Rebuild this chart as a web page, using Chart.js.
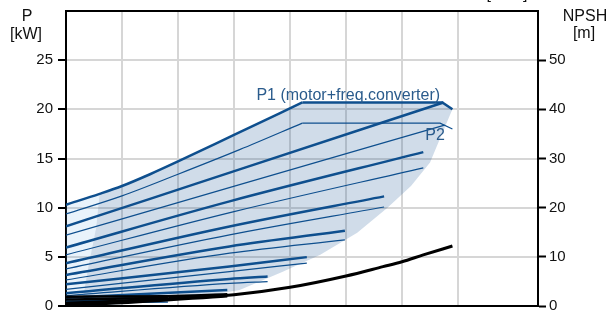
<!DOCTYPE html>
<html>
<head>
<meta charset="utf-8">
<script src="https://cdn.jsdelivr.net/npm/chart.js@4.4.1/dist/chart.umd.min.js"></script>
<style>
  html, body { margin: 0; padding: 0; background: #fff; }
  canvas { display: block; }
</style>
</head>
<body>
<canvas id="pumpChart" width="614" height="311"></canvas>
<script>
// Q axis has no labels on this crop, grid step 5
const qMax = 42.14;
const pTicks = [0, 5, 10, 15, 20, 25];
const npshTicks = [0, 10, 20, 30, 40, 50];

// top P1 curve: rising part, then power-limited part
const p1TopRise = [[0, 10.3], [3.0, 11.4], [5, 12.2], [7.5, 13.4], [10, 14.7], [15, 17.4], [21.1, 20.7]];
const p1TopLimit = [[21.1, 20.7], [33.6, 20.7], [34.5, 20.0]];
const p2TopRise = [[0, 9.36], [5, 11.2], [10, 13.4], [15.5, 15.9], [21.1, 18.6]];
const p2TopLimit = [[21.1, 18.6], [33.4, 18.6], [34.5, 18.0]];

// P1 (motor+freq.converter) for the lower speeds, [Q, P kW]
const p1Curves = [
  [[0, 8.1], [7.5, 10.9], [15.5, 13.9], [33.7, 20.7]],
  [[0, 5.95], [14.6, 10.64], [31.9, 15.65]],
  [[0, 4.35], [14.6, 8.09], [28.4, 11.15]],
  [[0, 3.16], [14.6, 6.05], [24.9, 7.65]],
  [[0, 2.2], [14.6, 4.01], [21.5, 4.97]],
  [[0, 1.3], [14.6, 2.75], [18.0, 2.99]],
  [[0, 0.85], [14.4, 1.63]],
  [[0, 0.45], [9.1, 0.61]]
];

// P2 for the lower speeds
const p2Curves = [
  [[0, 7.2], [15.5, 12.35], [33.8, 18.4]],
  [[0, 5.2], [15.0, 9.6], [31.9, 14.05]],
  [[0, 3.78], [14.6, 7.24], [28.4, 10.07]],
  [[0, 2.65], [14.6, 5.37], [24.9, 6.73]],
  [[0, 1.7], [14.6, 3.5], [21.5, 4.36]],
  [[0, 1.05], [14.6, 2.3], [18.0, 2.48]],
  [[0, 0.65], [14.4, 1.22]],
  [[0, 0.3], [9.1, 0.4]]
];

// NPSH [Q, m]
const npshMain = [[0, 0.6], [5, 1.0], [9.1, 1.5], [15, 2.3], [20, 3.8], [25, 6.1], [28.3, 8.0], [30, 9.0], [31.9, 10.4], [34.5, 12.2]];
const npshLow = [
  [[0, 1.9], [9.1, 2.0], [14.4, 2.4]],
  [[0, 1.3], [9.1, 1.7]],
  [[0, 0.2], [5, 0.6], [14.4, 2.0]]
];

// operating area outlines [Q, P kW]
const areaMain = [[3.0, 11.4], [5, 12.2], [7.5, 13.4], [10, 14.7], [15, 17.4], [21.1, 20.7], [33.6, 20.7], [34.5, 20.0],
  [33.6, 17.6], [32.5, 14.6], [30.8, 12.2], [28.7, 10.0], [26.0, 7.45], [22.7, 5.2], [19.3, 3.47], [15.5, 1.63],
  [10.2, 0.6], [4, 0.1], [1.4, 0.05], [2.0, 4.0], [2.7, 8.0], [3.0, 11.4]];
const areaLow = [[0, 10.3], [3.0, 11.4], [2.7, 8.0], [2.0, 4.0], [1.4, 0.05], [0, 0.05], [0, 10.3]];

const blue = '#0e4f8e';
const toXY = (pts) => pts.map((p) => ({ x: p[0], y: p[1] }));

const datasets = [];
datasets.push({ data: toXY(npshMain), yAxisID: 'y1', borderColor: '#000', borderWidth: 3, cubicInterpolationMode: 'monotone', order: 1 });
npshLow.forEach((c) => datasets.push({ data: toXY(c), yAxisID: 'y1', borderColor: '#000', borderWidth: 2.5, cubicInterpolationMode: 'monotone', order: 1 }));

[p1TopRise, p1TopLimit].forEach((c, i) => datasets.push({
  data: toXY(c), yAxisID: 'y', borderColor: blue, borderWidth: 2.5,
  cubicInterpolationMode: i === 0 ? 'monotone' : 'default', tension: 0, order: 2
}));
[p2TopRise, p2TopLimit].forEach((c, i) => datasets.push({
  data: toXY(c), yAxisID: 'y', borderColor: blue, borderWidth: 1.2,
  cubicInterpolationMode: i === 0 ? 'monotone' : 'default', tension: 0, order: 3
}));
p1Curves.forEach((c) => datasets.push({
  data: toXY(c), yAxisID: 'y', borderColor: blue, borderWidth: 2.5, cubicInterpolationMode: 'monotone', order: 2
}));
p2Curves.forEach((c) => datasets.push({
  data: toXY(c), yAxisID: 'y', borderColor: blue, borderWidth: 1.2, cubicInterpolationMode: 'monotone', order: 3
}));
datasets.push({ data: toXY(areaMain), yAxisID: 'y', borderWidth: 0, borderColor: 'transparent', backgroundColor: 'rgba(22, 82, 145, 0.2)', fill: 'shape', order: 9 });
datasets.push({ data: toXY(areaLow), yAxisID: 'y', borderWidth: 0, borderColor: 'transparent', backgroundColor: 'rgba(100, 170, 230, 0.14)', fill: 'shape', order: 9 });

const textPlugin = {
  id: 'texts',
  afterDraw(chart) {
    const { ctx, chartArea, scales } = chart;
    ctx.save();
    // top frame line
    ctx.strokeStyle = '#000';
    ctx.lineWidth = 2;
    ctx.beginPath();
    ctx.moveTo(chartArea.left - 1, chartArea.top);
    ctx.lineTo(chartArea.right + 1, chartArea.top);
    ctx.stroke();

    ctx.font = '16px "Liberation Sans", Arial, sans-serif';
    ctx.fillStyle = '#111';
    ctx.textAlign = 'center';
    ctx.textBaseline = 'middle';
    ctx.fillText('P', 27, 17);
    ctx.fillText('[kW]', 26, 35);
    ctx.fillText('NPSH', 585, 17);
    ctx.fillText('[m]', 584, 34);
    ctx.textBaseline = 'alphabetic';
    ctx.fillText('[m³/h]', 507, -1);

    ctx.fillStyle = '#2a5b8c';
    ctx.textBaseline = 'middle';
    ctx.fillText('P1 (motor+freq.converter)', scales.x.getPixelForValue(25.2), scales.y.getPixelForValue(21.36));
    ctx.fillText('P2', scales.x.getPixelForValue(32.95), scales.y.getPixelForValue(17.3));
    ctx.restore();
  }
};

const tickFont = { family: '"Liberation Sans", Arial, sans-serif', size: 15 };

function noPad(s) {
  s.paddingTop = 0;
  s.paddingBottom = 0;
  s.paddingLeft = 0;
  s.paddingRight = 0;
}

new Chart(document.getElementById('pumpChart'), {
  type: 'line',
  data: { datasets: datasets },
  options: {
    responsive: false,
    animation: false,
    devicePixelRatio: 1,
    layout: { padding: { top: 11, bottom: 5, left: 0, right: 0 } },
    elements: { point: { radius: 0 }, line: { fill: false, borderCapStyle: 'butt' } },
    plugins: { legend: { display: false }, tooltip: { enabled: false } },
    scales: {
      x: {
        type: 'linear',
        min: 0,
        max: qMax,
        ticks: { display: false, stepSize: 5 },
        grid: { color: '#d6d6d6', lineWidth: 2, drawTicks: false },
        border: { color: '#000', width: 2 },
        afterFit: (s) => { s.height = 0; noPad(s); }
      },
      y: {
        position: 'left',
        min: 0,
        max: 30,
        afterBuildTicks: (s) => { s.ticks = pTicks.map((v) => ({ value: v })); },
        ticks: { font: tickFont, color: '#111', padding: 5 },
        grid: {
          color: '#d6d6d6', lineWidth: 2, tickLength: 8, tickWidth: 2, tickColor: '#000'
        },
        border: { color: '#000', width: 2 },
        afterFit: (s) => { s.width = 66; noPad(s); }
      },
      y1: {
        position: 'right',
        min: 0,
        max: 60,
        afterBuildTicks: (s) => { s.ticks = npshTicks.map((v) => ({ value: v })); },
        ticks: { font: tickFont, color: '#111', padding: 3 },
        grid: { drawOnChartArea: false, tickLength: 8, tickWidth: 2, tickColor: '#000' },
        border: { color: '#000', width: 2 },
        afterFit: (s) => { s.width = 76; noPad(s); }
      }
    }
  },
  plugins: [textPlugin]
});
</script>
</body>
</html>
